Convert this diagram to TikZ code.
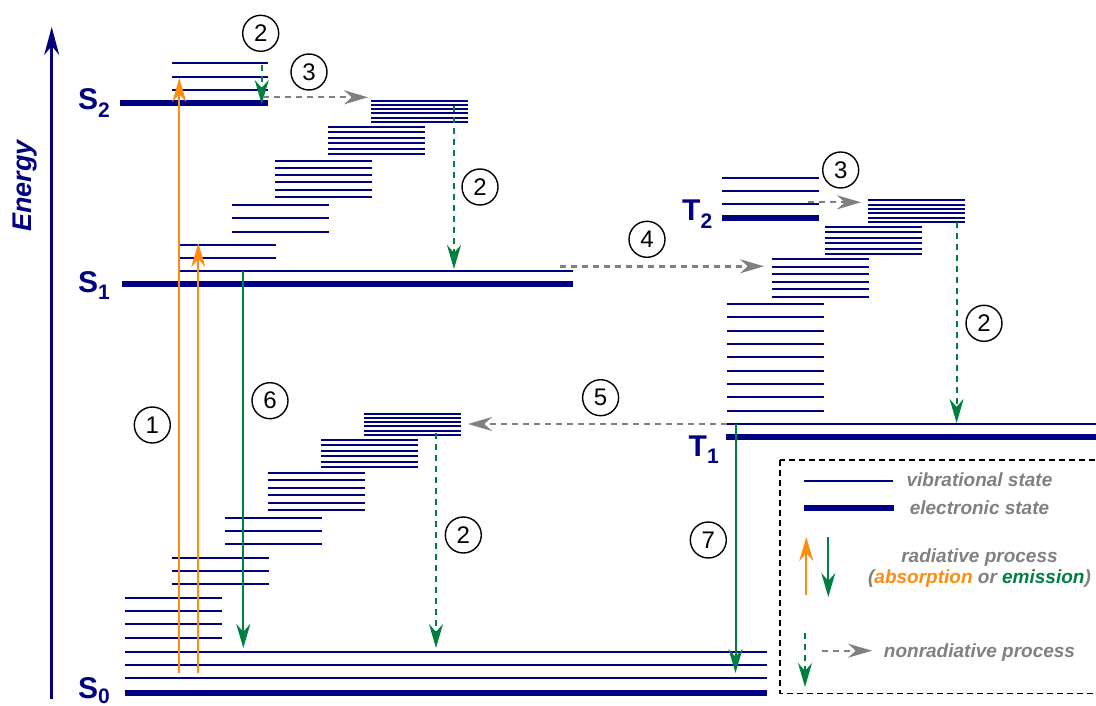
\documentclass[tikz,border=0pt]{standalone}
\usepackage{fontspec}
\setmainfont{Liberation Sans}
\usetikzlibrary{arrows.meta}

\definecolor{navy}{RGB}{0,0,128}
\definecolor{absorb}{RGB}{255,140,16}
\definecolor{emitgreen}{RGB}{0,128,64}
\definecolor{nrgray}{RGB}{128,128,128}

% a stack of n equally spaced vibrational levels
\newcommand\ladder[5]{%
  \foreach \k in {1,...,#5}{\draw[vib] (#1,{#3+(\k-1)*#4}) -- (#2,{#3+(\k-1)*#4});}}

\tikzset{
  vib/.style={draw=navy, line width=2pt},
  elec/.style={draw=navy, line width=6pt},
  headtip/.tip={Stealth[length=24pt,width=14pt]},
  absorbarrow/.style={draw=absorb, line width=2pt, -headtip},
  emitarrow/.style={draw=emitgreen, line width=2pt, -headtip},
  relaxarrow/.style={draw=emitgreen, line width=2pt, dash pattern=on 6pt off 5pt, -headtip},
  crossarrow/.style={draw=nrgray, line width=2.4pt, dash pattern=on 6pt off 5pt, -headtip},
  num/.style={circle, draw=black, line width=1.4pt, minimum size=36pt, inner sep=0pt,
              font=\fontsize{24}{24}\selectfont},
  statelabel/.style={anchor=base west, inner sep=0pt, text=navy,
              font=\fontsize{30}{30}\selectfont\bfseries},
  legendtext/.style={anchor=base, inner sep=0pt, text=nrgray,
              font=\fontsize{19}{19}\selectfont\bfseries\itshape},
}
\newcommand\sublabel[2][7.5pt]{\raisebox{-#1}{\fontsize{21}{21}\selectfont #2}}

\begin{document}
\begin{tikzpicture}[x=1pt,y=-1pt]
\useasboundingbox (0,0) rectangle (1096,706);

% energy axis
\coordinate (axbot) at (51.7,699);
\coordinate (axtop) at (51.7,27);
\draw[navy, line width=2.5pt, -{Stealth[length=28pt,width=15pt]}] (axbot) -- (axtop);
\node[rotate=90, text=navy, font=\fontsize{27}{27}\selectfont\bfseries\itshape] (energy) at (25.5,186) {Energy};

% singlet S2 and the vibrational manifold relaxing towards S1
\ladder{172}{268}{63.3}{13.35}{3}
\draw[elec] (120,102.7) -- (268,102.7);
\ladder{371}{468}{100.7}{4.26}{6}
\ladder{328}{425}{126.7}{5.46}{6}
\ladder{275}{372}{161}{7.14}{6}
\ladder{232}{329}{204.7}{13.5}{3}
\ladder{180}{276}{244.7}{13}{2}
\draw[vib] (180,271.3) -- (573,271.3);
\draw[elec] (122,284.3) -- (573,284.3);

% ground state S0 and its vibrational manifold
\ladder{364}{461}{413.7}{4.26}{6}
\ladder{321}{418}{440}{5.4}{6}
\ladder{268}{365}{472.7}{7.46}{6}
\ladder{225}{322}{517.7}{13.3}{3}
\ladder{172}{269}{558}{13.15}{3}
\ladder{125}{222}{597.7}{13.33}{4}
\ladder{125}{767}{651.7}{13}{3}
\draw[elec] (125,692.7) -- (767,692.7);

% triplet states T2 and T1
\ladder{722}{819}{177.7}{13}{3}
\draw[elec] (722,217.7) -- (819,217.7);
\ladder{868}{965}{200.3}{4.34}{6}
\ladder{825}{922}{226.7}{5.46}{6}
\ladder{772}{869}{259.3}{7.48}{6}
\ladder{727}{824}{304}{13.34}{9}
\draw[vib] (727,424) -- (1100,424);
\draw[elec] (726,437) -- (1100,437);

% state labels
\node[statelabel] (lS2) at (78,110) {S\sublabel{2}};
\node[statelabel] (lS1) at (78,292) {S\sublabel{1}};
\node[statelabel] (lS0) at (78,698.5) {S\sublabel[4.5pt]{0}};
\node[statelabel] (lT2) at (682,221) {T\sublabel{2}};
\node[statelabel] (lT1) at (688.5,456) {T\sublabel{1}};

% end points of the transitions
\coordinate (abA0) at (179.3,673);   \coordinate (abA1) at (179.3,78);
\coordinate (abB0) at (198.3,673);   \coordinate (abB1) at (198.3,243);
\coordinate (vrA0) at (261.7,65);    \coordinate (vrA1) at (261.7,104);
\coordinate (icA0) at (263,97.3);    \coordinate (icA1) at (368,97.3);
\coordinate (vrB0) at (454,106);     \coordinate (vrB1) at (454,269);
\coordinate (fl0)  at (243.3,271);   \coordinate (fl1)  at (243.3,648);
\coordinate (vrC0) at (436,433);     \coordinate (vrC1) at (436,648);
\coordinate (isc0) at (560,266.3);   \coordinate (isc1) at (764,266.3);
\coordinate (icB0) at (808,202.3);   \coordinate (icB1) at (861,202.3);
\coordinate (vrD0) at (956.6,222);   \coordinate (vrD1) at (956.6,423);
\coordinate (rsc0) at (727,424);     \coordinate (rsc1) at (468,424);
\coordinate (ph0)  at (735.5,424);   \coordinate (ph1)  at (735.5,673);

% transitions
\draw[absorbarrow] (abA0) -- (abA1);
\draw[absorbarrow] (abB0) -- (abB1);
\draw[relaxarrow] (vrA0) -- (vrA1);
\draw[crossarrow] (icA0) -- (icA1);
\draw[relaxarrow] (vrB0) -- (vrB1);
\draw[emitarrow] (fl0) -- (fl1);
\draw[relaxarrow] (vrC0) -- (vrC1);
\draw[crossarrow] (isc0) -- (isc1);
\draw[crossarrow] (icB0) -- (icB1);
\draw[relaxarrow] (vrD0) -- (vrD1);
\draw[crossarrow] (rsc0) -- (rsc1);
\draw[emitarrow] (ph0) -- (ph1);

% process numbers
\node[num] (n2a) at (260.7,33.3) {2};
\node[num] (n3a) at (309,72) {3};
\node[num] (n2b) at (480,187) {2};
\node[num] (n3b) at (840.7,170) {3};
\node[num] (n4)  at (647,239.3) {4};
\node[num] (n2c) at (984,323.3) {2};
\node[num] (n5)  at (600.6,397.7) {5};
\node[num] (n1)  at (152.3,425) {1};
\node[num] (n6)  at (270,400.7) {6};
\node[num] (n2d) at (463.3,535) {2};
\node[num] (n7)  at (708.3,540) {7};

% legend
\draw[black, line width=1.3pt, dash pattern=on 6pt off 4pt] (780,460) rectangle (1104,693.3);
\draw[vib] (804,481) -- (893,481);
\draw[elec] (804,507.7) -- (894,507.7);
\node[legendtext] (tvib) at (979.5,486.5) {vibrational state};
\node[legendtext] (telec) at (979.5,514) {electronic state};
\coordinate (lgA0) at (806.3,595);  \coordinate (lgA1) at (806.3,537);
\coordinate (lgE0) at (828.3,537);  \coordinate (lgE1) at (828.3,597);
\draw[absorbarrow] (lgA0) -- (lgA1);
\draw[emitarrow] (lgE0) -- (lgE1);
\node[legendtext] (trad) at (979.5,562) {radiative process};
\node[legendtext] (tae) at (979.5,583.5) {(\textcolor{absorb}{absorption} or \textcolor{emitgreen}{emission})};
\coordinate (lgR0) at (805,633);    \coordinate (lgR1) at (805,687);
\coordinate (lgC0) at (822,650.7);  \coordinate (lgC1) at (872,650.7);
\draw[relaxarrow] (lgR0) -- (lgR1);
\draw[crossarrow] (lgC0) -- (lgC1);
\node[legendtext] (tnon) at (979.5,657) {nonradiative process};
\end{tikzpicture}
\end{document}
